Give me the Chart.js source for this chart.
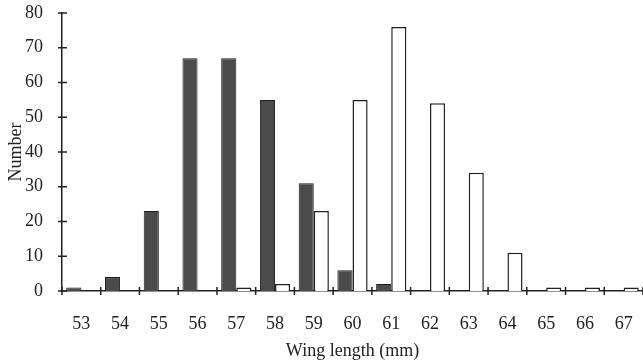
<!DOCTYPE html>
<html>
<head>
<meta charset="utf-8">
<script src="https://cdn.jsdelivr.net/npm/chart.js@4.4.1/dist/chart.umd.min.js"></script>
<style>
  html, body { margin: 0; padding: 0; background: #fff; }
  #wrap { width: 643px; height: 362px; position: relative; }
</style>
</head>
<body>
<div id="wrap"><canvas id="chart"></canvas></div>
<script>
  const wingLengths = ["53", "54", "55", "56", "57", "58", "59", "60", "61", "62", "63", "64", "65", "66", "67"];
  const darkCounts  = [1, 4, 23, 67, 67, 55, 31, 6, 2, 0, 0, 0, 0, 0, 0];
  const whiteCounts = [0, 0, 0, 0, 1, 2, 23, 55, 76, 54, 34, 11, 1, 1, 1];
  const yTicks = [0, 10, 20, 30, 40, 50, 60, 70, 80];

  const INK = "#222";
  const SERIF = "'Liberation Serif', 'DejaVu Serif', serif";

  // ticks in the picture cross the axis line, so draw them ourselves
  const crossTicks = {
    id: "crossTicks",
    afterDraw(chart) {
      const { ctx, chartArea, scales } = chart;
      const x = scales.x, y = scales.y;
      ctx.save();
      ctx.strokeStyle = INK;
      ctx.lineWidth = 1.5;
      ctx.beginPath();
      yTicks.forEach(v => {
        const py = y.getPixelForValue(v);
        ctx.moveTo(chartArea.left - 4, py);
        ctx.lineTo(chartArea.left + 5, py);
      });
      const step = (x.right - x.left) / wingLengths.length;
      for (let i = 0; i <= wingLengths.length; i++) {
        const px = x.getPixelForTick(0) - step / 2 + i * step;
        ctx.moveTo(px, y.bottom - 4);
        ctx.lineTo(px, y.bottom + 4);
      }
      ctx.stroke();
      ctx.restore();
    }
  };

  new Chart(document.getElementById("chart"), {
    type: "bar",
    data: {
      labels: wingLengths,
      datasets: [
        { data: darkCounts, backgroundColor: "#4b4b4b", borderColor: "#1e1e1e", borderWidth: 1,
          categoryPercentage: 0.78, barPercentage: 1 },
        { data: whiteCounts, backgroundColor: "#ffffff", borderColor: INK, borderWidth: 1.5,
          categoryPercentage: 0.78, barPercentage: 1 }
      ]
    },
    options: {
      responsive: true,
      maintainAspectRatio: false,
      animation: false,
      layout: { padding: { top: 13, right: 0, left: 0, bottom: 0 } },
      plugins: { legend: { display: false }, tooltip: { enabled: false } },
      scales: {
        x: {
          grid: { display: false },
          border: { display: true, color: INK, width: 1.5 },
          ticks: { color: INK, font: { family: SERIF, size: 18 }, padding: 14, maxRotation: 0 },
          title: { display: true, text: "Wing length (mm)", color: INK,
                   font: { family: SERIF, size: 18 }, padding: { top: 6, bottom: 0 } },
          afterFit: s => { s.height = 71; s.paddingRight = 0; s.paddingLeft = 0; }
        },
        y: {
          min: 0, max: 80,
          afterBuildTicks: s => { s.ticks = yTicks.map(v => ({ value: v })); },
          grid: { display: false },
          border: { display: true, color: INK, width: 1.5 },
          ticks: { color: INK, font: { family: SERIF, size: 18 }, padding: 11 },
          title: { display: true, text: "Number", color: INK,
                   font: { family: SERIF, size: 18 }, padding: { top: 5, bottom: 4 } },
          afterFit: s => { s.width = 62; s.paddingTop = 0; s.paddingBottom = 0; }
        }
      }
    },
    plugins: [crossTicks]
  });
</script>
</body>
</html>
